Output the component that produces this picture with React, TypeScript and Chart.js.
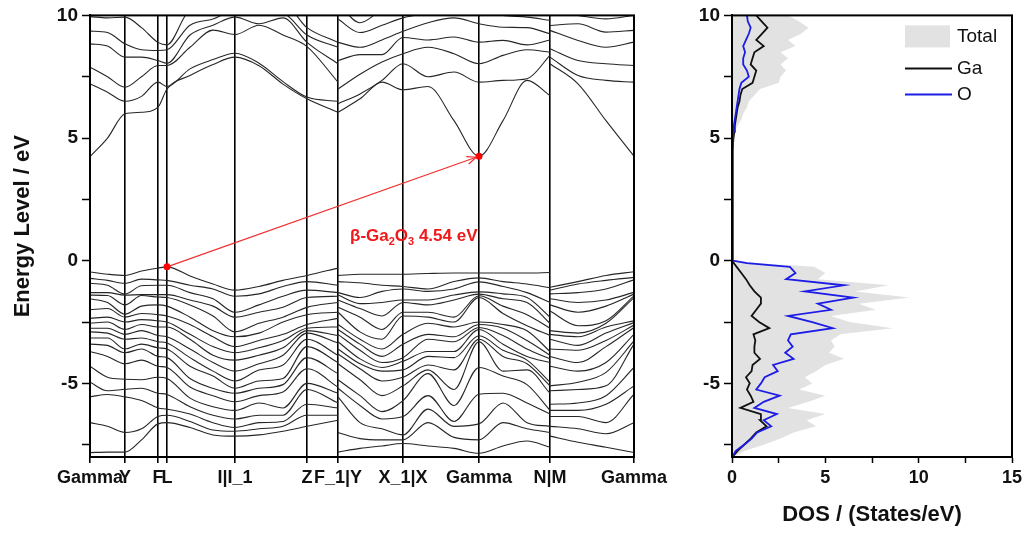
import React, { useEffect, useRef } from 'react';
import { Chart, registerables } from 'chart.js';

Chart.register(...registerables);

const FONT = '"Liberation Sans", Arial, Helvetica, sans-serif';
Chart.defaults.font.family = FONT;
Chart.defaults.color = '#111';

// ---------- band structure ----------
const kPoints = [0, 0.175, 0.35, 0.515, 0.68, 0.77, 1.0, 1.23, 1.45, 1.69, 1.93, 2.17, 2.48, 2.48, 2.7, 2.92, 3.13, 3.38, 3.64, 3.89, 4.13, 4.37, 4.6, 4.6, 4.88, 5.16, 5.44];
const pathBreaks = [12, 22];
const kTickValues = [0, 0.35, 0.68, 0.77, 1.45, 2.17, 2.48, 3.13, 3.89, 4.6, 5.44];
const kTickLabels = ['Gamma', 'Y', 'F', 'L', 'I|I_1', 'Z', 'F_1|Y', 'X_1|X', 'Gamma', 'N|M', 'Gamma'];
const energyTicks = [-7.5, -5, -2.5, 0, 2.5, 5, 7.5, 10];

// valence band energies at each k point (top to bottom)
const valenceAtK = [
  [-0.46, -0.72, -0.92, -1.3, -1.4, -1.55, -2.0, -2.35, -2.55, -2.75, -2.9, -3.15, -3.4, -3.7, -4.3, -4.95, -5.55, -6.6, -7.82],
  [-0.55, -0.8, -1.0, -1.3, -1.42, -1.7, -1.95, -2.3, -2.5, -2.75, -2.95, -3.15, -3.45, -3.9, -4.75, -5.3, -5.45, -6.75, -7.8],
  [-0.6, -0.92, -1.36, -1.4, -1.8, -2.18, -2.3, -2.5, -2.8, -3.0, -3.2, -3.6, -3.75, -4.2, -4.83, -5.24, -5.55, -7.0, -7.8],
  [-0.42, -0.75, -1.02, -1.38, -1.42, -1.85, -2.15, -2.4, -2.6, -2.85, -3.15, -3.4, -3.6, -4.05, -4.85, -5.2, -5.7, -6.85, -7.3],
  [-0.3, -0.78, -1.0, -1.38, -1.48, -1.8, -2.2, -2.45, -2.7, -3.05, -3.3, -3.55, -3.9, -4.3, -4.75, -5.4, -6.0, -6.35, -6.65],
  [-0.25, -0.8, -1.0, -1.38, -1.5, -1.85, -2.25, -2.5, -2.7, -3.1, -3.35, -3.6, -3.95, -4.35, -4.8, -5.45, -6.05, -6.3, -6.6],
  [-0.62, -1.0, -1.3, -1.6, -1.8, -2.3, -2.6, -3.0, -3.2, -3.6, -3.95, -4.3, -4.8, -5.15, -5.6, -5.95, -6.25, -6.55, -6.8],
  [-0.95, -1.15, -1.55, -1.85, -2.25, -2.85, -3.1, -3.5, -3.85, -4.15, -4.5, -4.7, -5.2, -5.5, -5.95, -6.3, -6.6, -6.9, -7.1],
  [-1.2, -1.45, -2.1, -2.3, -2.9, -3.1, -3.5, -3.75, -4.05, -4.5, -4.9, -5.2, -5.4, -5.75, -6.1, -6.45, -6.8, -6.95, -7.15],
  [-1.05, -1.35, -1.8, -2.1, -2.55, -2.95, -3.25, -3.55, -3.85, -4.2, -4.45, -4.9, -5.2, -5.5, -5.8, -6.3, -6.6, -6.85, -7.1],
  [-0.8, -1.05, -1.45, -1.9, -2.3, -2.5, -3.0, -3.25, -3.55, -3.85, -4.25, -4.8, -5.05, -5.35, -6.0, -6.3, -6.55, -6.75, -6.95],
  [-0.6, -0.85, -1.2, -1.5, -1.9, -2.2, -2.6, -2.75, -2.85, -2.95, -3.2, -3.5, -3.95, -4.4, -5.0, -5.25, -5.85, -6.3, -6.75],
  [-0.3, -1.0, -1.3, -1.45, -1.7, -2.1, -2.35, -2.7, -3.05, -3.35, -3.85, -4.15, -4.6, -5.15, -5.4, -5.8, -6.0, -6.3, -6.5],
  [-0.6, -0.85, -1.3, -1.4, -1.6, -1.9, -2.1, -2.6, -2.8, -3.0, -3.3, -3.6, -3.8, -4.2, -4.85, -5.2, -5.55, -7.0, -7.8],
  [-0.55, -0.9, -1.5, -1.75, -1.95, -2.3, -2.9, -3.2, -3.4, -3.65, -4.0, -4.2, -4.4, -4.85, -5.5, -5.9, -6.6, -7.25, -7.65],
  [-0.55, -1.0, -1.25, -1.7, -2.25, -2.8, -3.2, -3.6, -3.9, -4.15, -4.35, -4.5, -4.9, -5.5, -6.15, -6.45, -6.85, -7.3, -7.55],
  [-0.55, -1.05, -1.15, -1.6, -1.7, -2.1, -2.25, -3.0, -3.4, -3.95, -4.1, -4.45, -4.75, -5.1, -5.7, -6.35, -7.1, -7.3, -7.45],
  [-0.52, -1.15, -1.25, -1.6, -1.8, -2.1, -2.3, -2.55, -3.0, -3.2, -3.7, -3.9, -4.25, -4.45, -4.6, -5.5, -6.05, -6.6, -7.55],
  [-0.5, -0.85, -1.15, -1.4, -1.6, -2.3, -2.5, -2.7, -3.1, -3.3, -3.7, -3.95, -4.45, -5.25, -5.9, -6.55, -6.75, -7.2, -7.65],
  [-0.5, -0.7, -0.86, -1.27, -1.36, -1.43, -1.5, -2.5, -2.6, -2.72, -2.8, -3.06, -3.2, -3.3, -4.35, -5.44, -6.65, -7.3, -7.85],
  [-0.5, -0.85, -1.05, -1.35, -1.55, -1.85, -2.15, -2.6, -2.75, -3.05, -3.4, -3.65, -3.9, -4.5, -4.7, -5.4, -5.8, -6.6, -7.55],
  [-0.5, -0.95, -1.3, -1.5, -1.7, -2.2, -2.65, -2.85, -3.25, -3.6, -3.9, -4.05, -4.2, -4.45, -5.05, -5.8, -6.6, -6.85, -7.35],
  [-0.48, -1.1, -1.7, -2.3, -2.55, -2.75, -3.05, -3.7, -3.85, -4.0, -4.15, -4.95, -5.1, -5.4, -6.1, -6.25, -6.75, -7.0, -7.6],
  [-1.08, -1.2, -1.35, -1.55, -1.8, -2.05, -2.85, -3.0, -3.2, -3.6, -3.9, -4.3, -5.1, -5.3, -5.85, -6.1, -6.35, -6.75, -7.15],
  [-0.85, -0.95, -1.3, -1.7, -2.1, -2.65, -2.95, -3.1, -3.45, -3.65, -4.15, -4.5, -4.95, -5.25, -5.8, -6.1, -6.35, -6.85, -7.4],
  [-0.6, -0.8, -1.15, -1.6, -1.85, -2.45, -2.55, -2.7, -2.95, -3.25, -3.5, -4.15, -4.55, -5.1, -5.5, -5.85, -6.6, -7.05, -7.6],
  [-0.45, -0.68, -0.78, -1.29, -1.36, -1.43, -1.5, -2.45, -2.52, -2.62, -2.72, -3.0, -3.27, -3.4, -4.35, -5.1, -5.44, -6.6, -7.82],
];

// conduction band energies at each k point (bottom to top)
const conductionAtK = [
  [4.24, 7.21, 7.89, 8.84, 9.36, 9.95, 10.5],
  [5.0, 6.87, 7.5, 8.75, 9.3, 9.9, 10.5],
  [5.99, 6.5, 7.07, 8.3, 8.84, 9.93, 10.5],
  [6.05, 6.7, 7.5, 8.3, 8.6, 9.5, 10.2],
  [6.26, 7.28, 7.96, 8.16, 8.57, 8.9, 10.3],
  [7.0, 7.1, 7.96, 8.05, 8.6, 8.8, 10.4],
  [7.55, 7.82, 8.7, 9.2, 9.6, 10.2, 10.6],
  [8.0, 8.2, 9.4, 9.6, 9.85, 10.3, 10.7],
  [8.3, 8.46, 9.22, 9.93, 10.2, 10.5, 10.8],
  [7.95, 8.05, 9.6, 9.66, 10.2, 10.5, 10.8],
  [7.2, 7.3, 9.2, 9.9, 10.1, 10.5, 10.8],
  [6.6, 6.67, 8.73, 8.9, 9.2, 9.5, 10.2],
  [6.05, 6.5, 7.28, 8.03, 8.7, 8.9, 10.0],
  [6.05, 6.4, 7.0, 8.16, 8.9, 9.85, 10.5],
  [6.6, 6.8, 7.6, 8.4, 8.7, 9.3, 9.7],
  [7.28, 7.35, 8.1, 8.4, 9.0, 9.6, 10.2],
  [6.97, 8.03, 8.44, 9.1, 9.35, 9.9, 10.3],
  [7.1, 7.5, 8.7, 9.0, 9.7, 10.1, 10.5],
  [5.71, 7.69, 8.44, 9.12, 9.9, 10.3, 10.6],
  [4.26, 7.28, 8.03, 8.91, 9.66, 10.2, 10.6],
  [5.71, 7.35, 8.37, 8.98, 9.52, 10.0, 10.5],
  [7.35, 7.42, 8.6, 8.8, 9.5, 9.93, 10.5],
  [6.73, 8.37, 8.5, 9.0, 9.25, 9.8, 10.5],
  [8.03, 8.3, 8.64, 9.39, 9.59, 10.2, 10.6],
  [7.21, 7.55, 8.16, 8.98, 9.66, 10.0, 10.5],
  [5.71, 7.35, 8.03, 8.7, 9.32, 9.86, 10.5],
  [4.26, 7.28, 7.96, 8.91, 9.39, 10.0, 10.5],
];

const vbmPoint = { k: 0.77, e: -0.25 };
const cbmPoint = { k: 3.89, e: 4.26 };
const gapLabelParts = [
  { text: 'β-Ga', sub: false },
  { text: '2', sub: true },
  { text: 'O', sub: false },
  { text: '3', sub: true },
  { text: ' 4.54 eV', sub: false },
];
const gapLabelAt = { k: 2.6, e: 0.82 };

// ---------- DOS ----------
const dosEnergy = [
  -8, -7.75, -7.5, -7.25, -7, -6.75, -6.5, -6.25, -6, -5.75, -5.5, -5.25, -5, -4.75, -4.5, -4.25,
  -4, -3.75, -3.5, -3.25, -3, -2.75, -2.5, -2.25, -2, -1.75, -1.5, -1.25, -1, -0.75, -0.5, -0.25, -0.1, 0,
  0.5, 2.5, 4.5,
  5, 5.25, 5.5, 5.75, 6, 6.25, 6.5, 6.75, 7, 7.25, 7.5, 7.75, 8, 8.25, 8.5, 8.75, 9, 9.25, 9.5, 9.75, 10,
];
const dosTotal = [
  0.05, 0.7, 1.7, 2.6, 3.3, 4.5, 4.0, 5.0, 3.0, 4.1, 5.0, 3.6, 4.3, 3.9, 4.5, 5.0,
  6.0, 5.2, 5.5, 5.3, 5.8, 8.6, 6.3, 5.3, 7.7, 6.8, 9.5, 6.6, 8.4, 4.6, 5.0, 4.4, 1.5, 0.1,
  0.05, 0.05, 0.06,
  0.1, 0.15, 0.3, 0.5, 0.6, 0.8, 0.9, 1.2, 1.5, 2.5, 2.6, 2.9, 2.6, 3.0, 2.6, 3.4, 3.0, 3.7, 4.1, 3.6, 3.0,
];
const dosGa = [
  0.02, 0.3, 0.65, 1.0, 1.3, 1.85, 1.5, 1.55, 0.45, 1.15, 1.0, 0.8, 0.95, 0.75, 1.05, 1.1,
  1.5, 1.2, 1.2, 1.25, 1.15, 2.0, 1.45, 1.05, 1.3, 1.55, 1.55, 1.2, 0.95, 0.75, 0.5, 0.25, 0.1, 0.03,
  0.02, 0.02, 0.03,
  0.08, 0.12, 0.15, 0.2, 0.25, 0.3, 0.4, 0.45, 0.55, 1.1, 1.2, 1.3, 1.0, 1.1, 1.2, 1.7, 1.3, 1.6, 1.9, 1.6, 1.3,
];
const dosO = [
  0.02, 0.2, 0.65, 1.05, 1.35, 2.1, 1.7, 2.4, 1.2, 1.7, 2.55, 1.3, 1.55, 1.75, 2.45, 2.2,
  3.3, 2.85, 3.25, 3.0, 3.15, 5.4, 4.3, 3.0, 5.3, 4.6, 6.5, 3.9, 6.0, 2.9, 3.4, 3.1, 0.8, 0.05,
  0.04, 0.04, 0.04,
  0.05, 0.06, 0.1, 0.15, 0.2, 0.25, 0.3, 0.35, 0.4, 0.5, 0.9, 0.8, 0.6, 0.6, 0.7, 0.6, 0.75, 0.9, 1.0, 0.85, 0.8,
];
const dosTicks = [0, 2.5, 5, 7.5, 10, 12.5, 15];

// ---------- helpers ----------
function bandSeries(cols: number[][], b: number) {
  const pts: { x: number; y: number | null }[] = [];
  kPoints.forEach((k, i) => {
    pts.push({ x: k, y: cols[i][b] });
    if (pathBreaks.includes(i)) pts.push({ x: k, y: null });
  });
  return pts;
}

function energyAxis(width: number) {
  return {
    type: 'linear',
    min: -8,
    max: 10,
    afterFit: (s: any) => { s.width = width; },
    afterBuildTicks: (s: any) => { s.ticks = energyTicks.map((v) => ({ value: v })); },
    ticks: {
      font: { size: 19, weight: 'bold' },
      color: '#111',
      padding: 4,
      callback: (v: number) => (v % 5 === 0 ? String(v) : ''),
    },
    grid: { drawOnChartArea: false, drawTicks: true, tickLength: 8, tickColor: '#000', tickWidth: 1.5 },
    border: { display: true, color: '#000', width: 2 },
  };
}

const framePlugin = {
  id: 'frame',
  afterDraw(chart: any) {
    const { ctx, chartArea } = chart;
    ctx.save();
    ctx.strokeStyle = '#000';
    ctx.lineWidth = 2;
    ctx.strokeRect(chartArea.left, chartArea.top, chartArea.right - chartArea.left, chartArea.bottom - chartArea.top);
    ctx.restore();
  },
};

const energyTitlePlugin = {
  id: 'energyTitle',
  afterDraw(chart: any) {
    const { ctx, chartArea } = chart;
    ctx.save();
    ctx.translate(23, (chartArea.top + chartArea.bottom) / 2 - 10);
    ctx.rotate(-Math.PI / 2);
    ctx.font = `bold 22px ${FONT}`;
    ctx.fillStyle = '#111';
    ctx.textAlign = 'center';
    ctx.textBaseline = 'middle';
    ctx.fillText('Energy Level / eV', 0, 0);
    ctx.restore();
  },
};

const gapPlugin = {
  id: 'gapAnnotation',
  afterDatasetsDraw(chart: any) {
    const { ctx, scales } = chart;
    const idx = chart.data.datasets.findIndex((d: any) => d.label === 'gap');
    const meta = chart.getDatasetMeta(idx);
    const p0 = meta.data[0];
    const p1 = meta.data[1];
    const a = Math.atan2(p1.y - p0.y, p1.x - p0.x);
    const tx = p1.x - 3 * Math.cos(a);
    const ty = p1.y - 3 * Math.sin(a);
    ctx.save();
    ctx.strokeStyle = '#f03030';
    ctx.lineWidth = 1.2;
    ctx.beginPath();
    ctx.moveTo(tx - 10 * Math.cos(a - 0.4), ty - 10 * Math.sin(a - 0.4));
    ctx.lineTo(tx, ty);
    ctx.lineTo(tx - 10 * Math.cos(a + 0.4), ty - 10 * Math.sin(a + 0.4));
    ctx.stroke();
    let x = scales.x.getPixelForValue(gapLabelAt.k);
    const y = scales.y.getPixelForValue(gapLabelAt.e);
    ctx.fillStyle = '#f01818';
    ctx.textBaseline = 'alphabetic';
    ctx.textAlign = 'left';
    gapLabelParts.forEach((p) => {
      ctx.font = p.sub ? `bold 11px ${FONT}` : `bold 17px ${FONT}`;
      ctx.fillText(p.text, x, p.sub ? y + 4 : y);
      x += ctx.measureText(p.text).width;
    });
    ctx.restore();
  },
};

const legendRows = [21, 53, 79];
const dosLegendPlugin = {
  id: 'dosLegend',
  afterDraw(chart: any) {
    const { ctx, chartArea } = chart;
    const x0 = chartArea.right - 107;
    ctx.save();
    ctx.font = `19px ${FONT}`;
    ctx.textBaseline = 'middle';
    ctx.textAlign = 'left';
    chart.data.datasets.forEach((ds: any, i: number) => {
      const y = chartArea.top + legendRows[i];
      if (ds.fill) {
        ctx.fillStyle = ds.backgroundColor;
        ctx.fillRect(x0, y - 11, 45, 22);
      } else {
        ctx.strokeStyle = ds.borderColor;
        ctx.lineWidth = 2;
        ctx.beginPath();
        ctx.moveTo(x0, y);
        ctx.lineTo(x0 + 47, y);
        ctx.stroke();
      }
      ctx.fillStyle = '#111';
      ctx.fillText(ds.label, x0 + 52, y);
    });
    ctx.restore();
  },
};

function bandConfig(): any {
  const lineStyle = {
    borderColor: '#262626',
    borderWidth: 1.1,
    pointRadius: 0,
    cubicInterpolationMode: 'monotone',
    fill: false,
    spanGaps: false,
  };
  const datasets: any[] = [];
  for (let b = 0; b < valenceAtK[0].length; b++) {
    datasets.push({ label: `VB${b + 1}`, data: bandSeries(valenceAtK, b), ...lineStyle });
  }
  for (let b = 0; b < conductionAtK[0].length; b++) {
    datasets.push({ label: `CB${b + 1}`, data: bandSeries(conductionAtK, b), ...lineStyle });
  }
  datasets.push({
    label: 'gap',
    data: [{ x: vbmPoint.k, y: vbmPoint.e }, { x: cbmPoint.k, y: cbmPoint.e }],
    borderColor: '#f03030',
    borderWidth: 1.1,
    pointRadius: 3.5,
    pointBackgroundColor: '#ff0000',
    pointBorderWidth: 0,
    order: -1,
    fill: false,
  });
  return {
    type: 'line',
    data: { datasets },
    plugins: [framePlugin, energyTitlePlugin, gapPlugin],
    options: {
      animation: false,
      responsive: false,
      events: [],
      layout: { padding: { top: 15, right: 46, left: 0, bottom: 0 } },
      plugins: { legend: { display: false }, tooltip: { enabled: false } },
      scales: {
        x: {
          type: 'linear',
          min: 0,
          max: 5.44,
          afterFit: (s: any) => { s.height = 79; },
          afterBuildTicks: (s: any) => { s.ticks = kTickValues.map((v) => ({ value: v })); },
          ticks: {
            autoSkip: false,
            maxRotation: 0,
            minRotation: 0,
            padding: 4,
            font: { size: 18, weight: 'bold' },
            color: '#111',
            callback: (_v: number, i: number) => kTickLabels[i],
          },
          grid: { color: '#000', lineWidth: 1.6, drawTicks: true, tickLength: 6, tickColor: '#000' },
          border: { display: true, color: '#000', width: 2 },
        },
        y: energyAxis(90),
      },
    },
  };
}

function dosConfig(): any {
  const pts = (vals: number[]) => dosEnergy.map((e, i) => ({ x: vals[i], y: e }));
  return {
    type: 'line',
    data: {
      datasets: [
        {
          label: 'Total',
          data: pts(dosTotal),
          fill: 'origin',
          backgroundColor: 'rgb(226,226,226)',
          borderColor: 'rgba(0,0,0,0)',
          borderWidth: 0,
          pointRadius: 0,
          order: 3,
        },
        { label: 'Ga', data: pts(dosGa), fill: false, borderColor: '#111', borderWidth: 1.8, pointRadius: 0, order: 2 },
        { label: 'O', data: pts(dosO), fill: false, borderColor: '#1c1ce6', borderWidth: 1.8, pointRadius: 0, order: 1 },
      ],
    },
    plugins: [framePlugin, dosLegendPlugin],
    options: {
      indexAxis: 'y',
      animation: false,
      responsive: false,
      events: [],
      layout: { padding: { top: 15, right: 15, left: 0, bottom: 0 } },
      plugins: { legend: { display: false }, tooltip: { enabled: false } },
      scales: {
        x: {
          type: 'linear',
          min: 0,
          max: 15,
          afterFit: (s: any) => { s.height = 79; },
          afterBuildTicks: (s: any) => { s.ticks = dosTicks.map((v) => ({ value: v })); },
          ticks: {
            autoSkip: false,
            maxRotation: 0,
            padding: 4,
            font: { size: 18, weight: 'bold' },
            color: '#111',
            callback: (v: number) => (v % 5 === 0 ? String(v) : ''),
          },
          grid: { drawOnChartArea: false, drawTicks: true, tickLength: 6, tickColor: '#000', tickWidth: 1.5 },
          border: { display: true, color: '#000', width: 2 },
          title: {
            display: true,
            text: 'DOS / (States/eV)',
            font: { size: 22, weight: 'bold' },
            color: '#111',
            padding: { top: 0, bottom: 8 },
          },
        },
        y: energyAxis(52),
      },
    },
  };
}

export default function App() {
  const bandRef = useRef<HTMLCanvasElement>(null);
  const dosRef = useRef<HTMLCanvasElement>(null);
  useEffect(() => {
    const band = new Chart(bandRef.current as HTMLCanvasElement, bandConfig());
    const dos = new Chart(dosRef.current as HTMLCanvasElement, dosConfig());
    return () => {
      band.destroy();
      dos.destroy();
    };
  }, []);
  return (
    <div style={{ position: 'fixed', left: 0, top: 0, width: 1027, height: 536, background: '#fff' }}>
      <canvas ref={bandRef} width={680} height={536} style={{ position: 'absolute', left: 0, top: 0, width: 680, height: 536 }} />
      <canvas ref={dosRef} width={347} height={536} style={{ position: 'absolute', left: 680, top: 0, width: 347, height: 536 }} />
    </div>
  );
}
